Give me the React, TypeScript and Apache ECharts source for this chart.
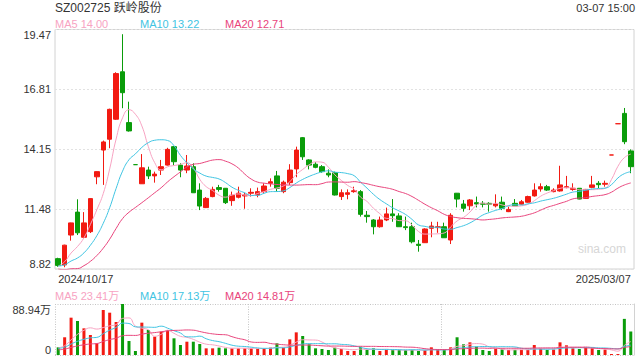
import React, { useEffect, useRef } from 'react';
import * as echarts from 'echarts';

const dates = [
  '2024/10/17','2024/10/18','2024/10/21','2024/10/22','2024/10/23','2024/10/24','2024/10/25','2024/10/28','2024/10/29','2024/10/30',
  '2024/10/31','2024/11/01','2024/11/11','2024/11/12','2024/11/13','2024/11/14','2024/11/15','2024/11/18','2024/11/19','2024/11/20',
  '2024/11/21','2024/11/22','2024/11/25','2024/11/26','2024/11/27','2024/11/28','2024/11/29','2024/12/02','2024/12/03','2024/12/04',
  '2024/12/05','2024/12/06','2024/12/09','2024/12/10','2024/12/11','2024/12/12','2024/12/13','2024/12/16','2024/12/17','2024/12/18',
  '2024/12/19','2024/12/20','2024/12/23','2024/12/24','2024/12/25','2024/12/26','2024/12/27','2024/12/30','2024/12/31','2025/01/02',
  '2025/01/03','2025/01/06','2025/01/07','2025/01/08','2025/01/09','2025/01/10','2025/01/13','2025/01/14','2025/01/15','2025/01/16',
  '2025/01/17','2025/01/20','2025/01/21','2025/01/22','2025/01/23','2025/01/24','2025/01/27','2025/02/05','2025/02/06','2025/02/07',
  '2025/02/10','2025/02/11','2025/02/12','2025/02/13','2025/02/14','2025/02/17','2025/02/18','2025/02/19','2025/02/20','2025/02/21',
  '2025/02/24','2025/02/25','2025/02/26','2025/02/27','2025/02/28','2025/03/03','2025/03/04','2025/03/05','2025/03/06','2025/03/07',
];

const opens = [
  9.28, 9.00, 10.33, 11.35, 10.23, 10.48, 12.92, 14.11, 14.59, 15.48,
  17.59, 15.33, 13.46, 12.61, 13.22, 12.96, 13.22, 13.44, 14.26, 13.44,
  13.22, 13.37, 12.33, 11.55, 12.04, 12.44, 12.41, 11.86, 12.01, 12.07,
  12.19, 12.11, 12.26, 12.63, 12.96, 12.26, 12.66, 13.27, 14.66, 13.67,
  13.48, 13.37, 13.08, 13.10, 12.04, 12.14, 12.26, 12.26, 11.21, 11.00,
  10.70, 11.00, 11.27, 11.18, 10.70, 10.70, 9.92, 9.99, 10.63, 10.66,
  10.70, 10.11, 12.19, 11.71, 11.63, 11.77, 11.74, 11.74, 11.63, 11.79,
  11.37, 11.74, 11.70, 11.79, 12.07, 12.38, 12.48, 12.26, 12.29, 12.44,
  12.36, 12.41, 11.96, 12.45, 12.63, 12.59, 13.89, 15.28, 15.74, 14.07,
];
const closes = [
  8.98, 9.88, 10.87, 10.43, 10.87, 11.95, 13.15, 14.47, 15.92, 17.51,
  16.66, 14.96, 13.46, 13.32, 12.96, 13.04, 13.37, 14.14, 13.59, 13.22,
  13.40, 12.21, 11.62, 11.96, 12.36, 12.36, 11.77, 12.10, 12.19, 12.11,
  12.23, 12.26, 12.51, 12.70, 12.41, 12.68, 13.22, 14.11, 13.81, 13.44,
  13.34, 13.15, 13.00, 12.11, 12.21, 12.21, 12.30, 11.25, 11.15, 10.70,
  11.00, 11.27, 11.19, 10.70, 10.66, 10.03, 9.87, 10.60, 10.73, 10.70,
  10.21, 11.21, 11.93, 11.52, 11.89, 11.71, 11.70, 11.70, 11.71, 11.52,
  11.47, 11.63, 11.81, 12.04, 12.33, 12.48, 12.33, 12.33, 12.56, 12.48,
  12.41, 11.93, 12.36, 12.56, 12.57, 12.63, 13.89, 15.28, 14.48, 13.37,
];
const lows = [
  8.92, 8.90, 10.08, 10.33, 10.20, 10.42, 12.59, 12.56, 14.19, 15.45,
  15.97, 14.93, 13.46, 12.60, 12.82, 12.66, 13.00, 13.42, 13.44, 12.90,
  13.08, 12.20, 11.44, 11.53, 12.01, 12.26, 11.71, 11.63, 11.96, 11.50,
  12.04, 12.01, 12.19, 12.48, 12.26, 12.19, 12.56, 12.90, 13.67, 13.25,
  13.30, 13.10, 12.90, 12.09, 11.89, 11.92, 12.21, 11.15, 10.88, 10.36,
  10.66, 10.95, 10.92, 10.69, 10.55, 9.96, 9.59, 9.98, 10.23, 10.43,
  10.20, 9.93, 11.56, 11.37, 11.44, 11.56, 11.56, 11.37, 11.56, 11.44,
  11.35, 11.62, 11.68, 11.77, 12.04, 12.26, 12.29, 12.23, 12.26, 12.41,
  12.30, 11.92, 11.95, 12.41, 12.41, 12.48, 13.89, 15.28, 14.37, 13.08,
];
const highs = [
  9.32, 9.90, 10.88, 11.92, 11.35, 11.96, 13.16, 14.53, 15.95, 17.57,
  19.26, 16.26, 13.46, 13.93, 13.37, 13.15, 13.67, 14.21, 14.29, 13.52,
  13.89, 13.52, 12.63, 12.02, 12.48, 12.56, 12.42, 12.26, 12.48, 12.21,
  12.41, 12.44, 12.63, 12.85, 13.18, 12.75, 13.48, 14.26, 14.69, 13.70,
  13.57, 13.44, 13.25, 13.15, 12.36, 12.36, 12.48, 12.33, 11.40, 11.04,
  11.15, 11.55, 11.93, 11.30, 11.15, 10.88, 10.11, 10.63, 10.92, 10.92,
  10.88, 11.30, 12.20, 11.89, 11.93, 12.04, 11.84, 11.79, 12.14, 12.04,
  11.59, 11.93, 11.89, 12.08, 12.63, 12.63, 12.56, 12.41, 13.41, 12.96,
  12.63, 12.42, 12.38, 12.96, 12.73, 12.75, 13.89, 15.28, 15.98, 14.14,
];
// volume, in 万 shares
const volumes = [
  13.4, 30.9, 65.1, 59.3, 46.5, 34.9, 20.3, 78.5, 73.8, 57.6,
  88.94, 24.4, 7.0, 56.4, 43.6, 32.0, 40.7, 43.6, 29.1, 17.4,
  23.2, 23.2, 19.2, 11.6, 11.6, 12.8, 11.6, 11.6, 11.6, 11.6,
  11.6, 10.5, 11.6, 12.8, 20.3, 12.8, 27.3, 39.5, 33.1, 18.6,
  11.6, 10.5, 8.7, 12.8, 10.5, 7.0, 7.0, 14.5, 8.7, 11.6,
  7.0, 8.7, 8.7, 8.7, 8.7, 8.7, 7.0, 8.7, 13.4, 8.7,
  8.7, 13.4, 30.9, 18.6, 22.1, 14.5, 8.7, 7.0, 10.5, 10.0,
  8.7, 9.0, 9.0, 9.0, 17.4, 11.6, 8.7, 9.5, 22.1, 16.9,
  11.6, 10.5, 12.8, 11.6, 8.7, 9.5, 1.7, 1.7, 63.0, 41.0,
];
// sessions before the window, only used to seed the moving averages
const priorCloses = [10.3, 10.2, 10.2, 8.3, 8.1, 8.0, 7.9, 7.9, 8.0, 7.9, 9.3, 9.2, 9.08, 8.6, 8.57, 8.9, 8.95, 8.97, 8.95];
const priorVolumes = [6, 6, 7, 7, 6, 6, 7, 8, 7, 6, 9, 10, 12, 11, 10, 12, 14, 12, 11];

const priceTickLabels = ['8.82', '11.48', '14.15', '16.81', '19.47'];
const volTickLabels = ['0', '88.94万'];
const priceMin = 8.82;
const priceMax = 19.47;
const volMax = 88.94;

const titleText = 'SZ002725 跃岭股份';
const timeText = '03-07 15:00';
const priceLegend = ['MA5 14.00', 'MA10 13.22', 'MA20 12.71'];
const volLegend = ['MA5 23.41万', 'MA10 17.13万', 'MA20 14.81万'];
const maPeriods = [5, 10, 20];
const volDividers = [0, 30, 60];

const RED = '#f21a12';
const GREEN = '#0a9c0a';
const MA_COLORS = ['#f7a3c2', '#3fc4e2', '#e8447c'];
const FONT = '"Liberation Sans", Arial, "Noto Sans CJK SC", sans-serif';

function movingAverage(prior: number[], values: number[], n: number) {
  const all = prior.concat(values);
  const off = prior.length;
  return values.map((_, i) => {
    let s = 0;
    for (let k = 0; k < n; k++) s += all[off + i - k];
    return +(s / n).toFixed(3);
  });
}

function nearestLabel(labels: string[], v: number) {
  let best = labels[0];
  let d = Infinity;
  for (const l of labels) {
    const x = Math.abs(parseFloat(l) - v);
    if (x < d) { d = x; best = l; }
  }
  return best;
}

export default function App() {
  const ref = useRef<HTMLDivElement>(null);
  useEffect(() => {
    const chart = echarts.init(ref.current!, undefined, { renderer: 'svg' });
    const candleData = dates.map((_, i) => [opens[i], closes[i], lows[i], highs[i]]);
    const signs = dates.map((_, i) => {
      if (closes[i] > opens[i]) return 1;
      if (closes[i] < opens[i]) return -1;
      return i > 0 && closes[i - 1] > closes[i] ? -1 : 1;
    });
    const last = dates.length - 1;

    const legendTexts: any[] = [];
    const legendX = [55, 140, 225];
    priceLegend.forEach((t, k) => legendTexts.push({
      type: 'text', x: legendX[k], y: 24,
      style: { text: t, fill: MA_COLORS[k], font: `11px ${FONT}`, align: 'left', verticalAlign: 'middle', textAlign: 'left', textVerticalAlign: 'middle' },
    }));
    volLegend.forEach((t, k) => legendTexts.push({
      type: 'text', x: legendX[k], y: 295.5,
      style: { text: t, fill: MA_COLORS[k], font: `11px ${FONT}`, align: 'left', verticalAlign: 'middle', textAlign: 'left', textVerticalAlign: 'middle' },
    }));

    const maLine = (data: number[], k: number, xi: number) => ({
      type: 'line', xAxisIndex: xi, yAxisIndex: xi, data, smooth: true, showSymbol: false, symbol: 'none',
      lineStyle: { width: 1, color: MA_COLORS[k] }, itemStyle: { color: MA_COLORS[k] }, silent: true, z: 3,
    });

    const option: any = {
      animation: false,
      backgroundColor: '#fff',
      textStyle: { fontFamily: FONT },
      grid: [
        { left: 55, right: 6, top: 29.5, height: 239.5, show: true, borderColor: '#d2d2d2', borderWidth: 1, backgroundColor: 'transparent' },
        { left: 55, right: 6, top: 304, height: 51 },
      ],
      xAxis: [
        {
          type: 'category', gridIndex: 0, data: dates, boundaryGap: true,
          axisLine: { show: false }, axisTick: { show: false }, splitLine: { show: false },
          axisLabel: {
            interval: (i: number) => i === 0 || i === last,
            color: '#333', fontSize: 11, fontFamily: FONT, margin: 4,
            alignMinLabel: 'left', alignMaxLabel: 'right',
          },
        },
        {
          type: 'category', gridIndex: 1, data: dates, boundaryGap: true,
          axisLine: { show: false }, axisTick: { show: false }, axisLabel: { show: false },
          splitLine: { show: true, interval: (i: number) => volDividers.includes(i), lineStyle: { type: [1, 1.5], color: '#c4c4c4', width: 1 } },
        },
      ],
      yAxis: [
        {
          type: 'value', gridIndex: 0, min: priceMin, max: priceMax, interval: (priceMax - priceMin) / 4,
          axisLine: { show: false }, axisTick: { show: false },
          splitLine: { show: true, lineStyle: { type: [2, 2], color: '#e2e2e2', width: 1 } },
          axisLabel: {
            color: '#333', fontSize: 11, fontFamily: FONT, margin: 4,
            formatter: (v: number) => nearestLabel(priceTickLabels, v),
            verticalAlignMinLabel: 'bottom', verticalAlignMaxLabel: 'top',
          },
        },
        {
          type: 'value', gridIndex: 1, min: 0, max: volMax, interval: volMax,
          axisLine: { show: false }, axisTick: { show: false },
          splitLine: { show: true, lineStyle: { type: [1, 1.5], color: '#c4c4c4', width: 1 } },
          axisLabel: {
            color: '#333', fontSize: 11, fontFamily: FONT, margin: 4,
            formatter: (v: number) => (v === 0 ? volTickLabels[0] : volTickLabels[1]),
            verticalAlignMinLabel: 'bottom', verticalAlignMaxLabel: 'top',
          },
        },
        {
          type: 'value', gridIndex: 1, position: 'right', min: 0, max: volMax,
          axisLine: { show: true, lineStyle: { color: '#d2d2d2' } }, axisTick: { show: false },
          axisLabel: { show: false }, splitLine: { show: false },
        },
      ],
      series: [
        {
          type: 'candlestick', xAxisIndex: 0, yAxisIndex: 0, data: candleData, barWidth: 5,
          itemStyle: { color: RED, color0: GREEN, borderColor: RED, borderColor0: GREEN, borderWidth: 1 },
          silent: true, z: 2,
        },
        ...maPeriods.map((n, k) => maLine(movingAverage(priorCloses, closes, n), k, 0)),
        {
          type: 'bar', xAxisIndex: 1, yAxisIndex: 1, barWidth: 3, silent: true,
          data: volumes.map((v, i) => ({ value: v, itemStyle: { color: signs[i] > 0 ? RED : GREEN } })),
        },
        ...maPeriods.map((n, k) => maLine(movingAverage(priorVolumes, volumes, n), k, 1)),
      ],
      graphic: [
        { type: 'text', x: 55, y: 7.5, style: { text: titleText, fill: '#333', font: `12px ${FONT}`, align: 'left', verticalAlign: 'middle', textAlign: 'left', textVerticalAlign: 'middle' } },
        { type: 'text', x: 635, y: 7.5, style: { text: timeText, fill: '#333', font: `11px ${FONT}`, align: 'right', verticalAlign: 'middle', textAlign: 'right', textVerticalAlign: 'middle' } },
        { type: 'text', x: 602, y: 249, style: { text: 'sina.com', fill: '#d6d6d6', font: `12px ${FONT}`, align: 'center', verticalAlign: 'middle', textAlign: 'center', textVerticalAlign: 'middle' } },
        ...legendTexts,
      ],
    };
    chart.setOption(option);
    return () => chart.dispose();
  }, []);
  return <div ref={ref} style={{ position: 'absolute', left: 0, top: 0, width: 640, height: 360 }} />;
}
